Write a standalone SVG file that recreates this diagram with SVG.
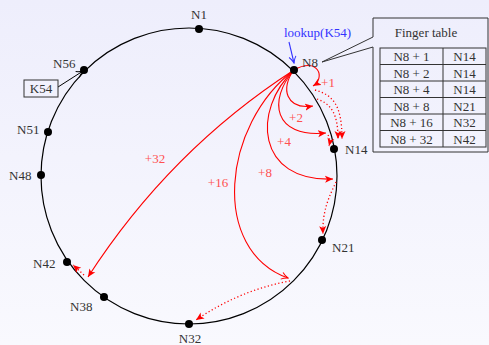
<svg xmlns="http://www.w3.org/2000/svg" width="489" height="345" viewBox="0 0 489 345">
<defs>
<linearGradient id="bg" x1="0" y1="0" x2="0" y2="1">
<stop offset="0" stop-color="#eeeefc"/>
<stop offset="1" stop-color="#f9f9fe"/>
</linearGradient>
<marker id="ar" markerUnits="userSpaceOnUse" markerWidth="9" markerHeight="8" refX="8" refY="4" orient="auto">
<path d="M0,0.5 L8,4 L0,7.5 L2,4 Z" fill="red"/>
</marker>
<marker id="ao" markerUnits="userSpaceOnUse" markerWidth="9" markerHeight="9" refX="7.5" refY="4.5" orient="auto">
<path d="M1,1 Q4,3.5 7.5,4.5 Q4,5.5 1,8" fill="none" stroke="red" stroke-width="1"/>
</marker>
<marker id="ak" markerUnits="userSpaceOnUse" markerWidth="9" markerHeight="9" refX="7.5" refY="4.5" orient="auto">
<path d="M1,1 Q4,3.5 7.5,4.5 Q4,5.5 1,8" fill="none" stroke="black" stroke-width="1"/>
</marker>
<marker id="ab" markerUnits="userSpaceOnUse" markerWidth="9" markerHeight="9" refX="7.5" refY="4.5" orient="auto">
<path d="M1,1 Q4,3.5 7.5,4.5 Q4,5.5 1,8" fill="none" stroke="#3333ff" stroke-width="1"/>
</marker>
</defs>
<style>
text{font-family:"Liberation Serif","DejaVu Serif",serif;font-size:13px;}
.nl{fill:#333;}
.rl{fill:#ff5050;text-anchor:middle;}
.tt{fill:#333;text-anchor:middle;}
.dot{fill:black;}
.sol{fill:none;stroke:red;stroke-width:1.1;}
.dash{fill:none;stroke:red;stroke-width:1.3;stroke-dasharray:1.2 2.4;}
</style>
<rect x="0" y="0" width="489" height="345" fill="url(#bg)"/>
<circle id="ring" cx="189" cy="176" r="148" fill="none" stroke="black" stroke-width="1.2"/>

<g id="connectors">
<path class="sol" d="M294,70 C318,56 326,78 313,86" marker-end="url(#ar)"/>
<path class="sol" d="M294,70 C280,88 286,110 313,106" marker-end="url(#ar)"/>
<path class="sol" d="M294,70 C268,100 273,138 326,133" marker-end="url(#ar)"/>
<path class="sol" d="M294,70 C252,110 256,182 333,179" marker-end="url(#ar)"/>
<path class="sol" d="M294,70 C222,125 210,250 288,278" marker-end="url(#ao)"/>
<path class="sol" d="M294,70 Q170,150 88,277" marker-end="url(#ar)"/>
<path class="dash" d="M315,90 C333,95 342,105 342,139" marker-end="url(#ar)"/>
<path class="dash" d="M317,99 C332,104 338,115 338,139" marker-end="url(#ar)"/>
<path class="dash" d="M328,135 C330,138 330,142 329,146" marker-end="url(#ar)"/>
<path class="dash" d="M336,182 C330,195 322,210 323,234" marker-end="url(#ar)"/>
<path class="dash" d="M290,281 Q240,290 196,320" marker-end="url(#ar)"/>
<path class="dash" d="M84,275 L73,265" marker-end="url(#ar)"/>
<path d="M58,87 L83,71" fill="none" stroke="black" stroke-width="1" marker-end="url(#ak)"/>
<path d="M289,42 L294,63" fill="none" stroke="#3333ff" stroke-width="1.1" marker-end="url(#ab)"/>
</g>

<g id="labels-red">
<text class="rl" x="328" y="87">+1</text>
<text class="rl" x="296" y="122">+2</text>
<text class="rl" x="284" y="146">+4</text>
<text class="rl" x="265" y="177">+8</text>
<text class="rl" x="218" y="187">+16</text>
<text class="rl" x="155" y="163">+32</text>
</g>

<g id="N1"><circle class="dot" cx="199" cy="29" r="4"/><text class="nl" x="199" y="19" text-anchor="middle">N1</text></g>
<g id="N8"><circle class="dot" cx="294" cy="70" r="4"/><text class="nl" x="302" y="67">N8</text></g>
<g id="N14"><circle class="dot" cx="334" cy="149" r="4"/><text class="nl" x="345" y="154">N14</text></g>
<g id="N21"><circle class="dot" cx="322" cy="240" r="4"/><text class="nl" x="332" y="252">N21</text></g>
<g id="N32"><circle class="dot" cx="189" cy="324" r="4"/><text class="nl" x="190" y="343" text-anchor="middle">N32</text></g>
<g id="N38"><circle class="dot" cx="104" cy="297" r="4"/><text class="nl" x="70" y="311">N38</text></g>
<g id="N42"><circle class="dot" cx="67" cy="262" r="4"/><text class="nl" x="33" y="268">N42</text></g>
<g id="N48"><circle class="dot" cx="41" cy="175" r="4"/><text class="nl" x="9" y="180">N48</text></g>
<g id="N51"><circle class="dot" cx="48" cy="132" r="4"/><text class="nl" x="17" y="134">N51</text></g>
<g id="N56"><circle class="dot" cx="84" cy="70" r="4"/><text class="nl" x="53" y="68">N56</text></g>

<g id="K54">
<rect x="24" y="80" width="34" height="17" fill="none" stroke="#333" stroke-width="1"/>
<text class="tt" x="41" y="93">K54</text>
</g>

<g id="lookup">
<text x="284" y="37" fill="#3333ff">lookup(K54)</text>
</g>

<g id="finger-table">
<path d="M373,18 L488,18 L488,152 L373,152 L373,47 L322,62 L373,37 Z" fill="none" stroke="#333" stroke-width="1"/>
<text class="tt" x="426" y="37">Finger table</text>
<rect x="380" y="48" width="106" height="99" fill="none" stroke="#333" stroke-width="1"/>
<path d="M380,64.5 H486 M380,81 H486 M380,97.5 H486 M380,114 H486 M380,130.5 H486 M443,48 V147" stroke="#333" stroke-width="1" fill="none"/>
<text class="tt" x="411.5" y="61">N8 + 1</text><text class="tt" x="464.5" y="61">N14</text>
<text class="tt" x="411.5" y="77.5">N8 + 2</text><text class="tt" x="464.5" y="77.5">N14</text>
<text class="tt" x="411.5" y="94">N8 + 4</text><text class="tt" x="464.5" y="94">N14</text>
<text class="tt" x="411.5" y="110.5">N8 + 8</text><text class="tt" x="464.5" y="110.5">N21</text>
<text class="tt" x="411.5" y="127">N8 + 16</text><text class="tt" x="464.5" y="127">N32</text>
<text class="tt" x="411.5" y="143.5">N8 + 32</text><text class="tt" x="464.5" y="143.5">N42</text>
</g>
</svg>
